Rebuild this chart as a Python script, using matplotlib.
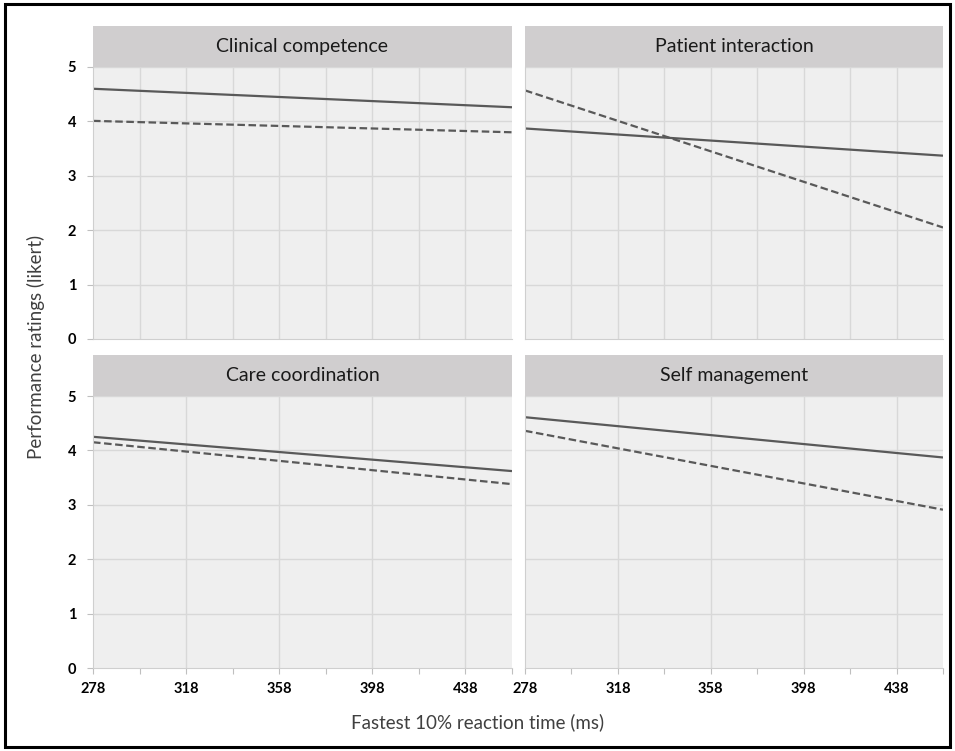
import matplotlib
matplotlib.use("Agg")
import matplotlib.pyplot as plt
from matplotlib.patches import Rectangle

plt.rcParams['font.family'] = ['Lato', 'DejaVu Sans']

# fitted lines, evaluated at both ends of the reaction-time range
rt_ends = [278, 458]
panels = ["Clinical competence", "Patient interaction",
          "Care coordination", "Self management"]
solid_vals = [[4.60, 4.26], [3.87, 3.37], [4.25, 3.62], [4.61, 3.87]]
dashed_vals = [[4.01, 3.80], [4.57, 2.05], [4.15, 3.38], [4.36, 2.91]]
x_ticks = [278, 318, 358, 398, 438]
y_ticks = [0, 1, 2, 3, 4, 5]

W, H = 955, 751
fig = plt.figure(figsize=(W / 100, H / 100), dpi=100)

line_col = '#595959'
grid_col = '#d8d8d8'
bg_col = '#efefef'
strip_col = '#d0cecf'


def box(x0, y0, x1, y1):
    # pixel box (top-left origin) -> figure fraction rect
    return [x0 / W, 1 - y1 / H, (x1 - x0) / W, (y1 - y0) / H]


lefts = [(93, 512), (525, 943)]
tops = [(26, 67, 339), (355, 396, 668)]

for i, name in enumerate(panels):
    row, col = divmod(i, 2)
    x0, x1 = lefts[col]
    s0, p0, p1 = tops[row]

    ax = fig.add_axes(box(x0, p0, x1, p1))
    ax.set_facecolor(bg_col)
    ax.plot(rt_ends, solid_vals[i], color=line_col, lw=1.6,
            solid_capstyle='butt')
    ax.plot(rt_ends, dashed_vals[i], color=line_col, lw=1.6,
            dashes=(3.4, 1.6))
    ax.set_xlim(278, 458)
    ax.set_ylim(0, 5)

    # top row has gridlines every 20, bottom row every 40
    if row == 0:
        for gx in range(298, 458, 20):
            ax.axvline(gx, color=grid_col, lw=1, zorder=0)
    else:
        for gx in range(318, 458, 40):
            ax.axvline(gx, color=grid_col, lw=1, zorder=0)
    for gy in y_ticks[1:]:
        ax.axhline(gy, color=grid_col, lw=1, zorder=0)

    ax.set_xticks(x_ticks + [458])
    ax.set_xticks(range(298, 458, 40), minor=True)
    ax.tick_params(axis='x', which='both', length=4, color='#bfbfbf',
                   direction='out', width=0.8, pad=6)
    if row == 1:
        ax.set_xticklabels([str(t) for t in x_ticks] + [''],
                           fontweight='bold', fontsize=10.5)
    else:
        ax.set_xticklabels([])
        ax.tick_params(axis='x', which='both', length=0)

    ax.set_yticks(y_ticks)
    if col == 0:
        ax.set_yticklabels([str(t) for t in y_ticks], fontweight='bold',
                           fontsize=10.5)
        ax.tick_params(axis='y', length=4, color='#bfbfbf', width=0.8,
                       pad=8)
    else:
        ax.set_yticklabels([])
        ax.tick_params(axis='y', length=0)

    for side in ['top', 'right']:
        ax.spines[side].set_visible(False)
    for side in ['left', 'bottom']:
        ax.spines[side].set_color('#cfcfcf')
        ax.spines[side].set_linewidth(0.8)

    # title strip
    sx = fig.add_axes(box(x0, s0, x1, p0))
    sx.set_facecolor(strip_col)
    sx.set_xticks([])
    sx.set_yticks([])
    for sp in sx.spines.values():
        sp.set_visible(False)
    sx.text(0.5, 0.5, name, ha='center', va='center', fontsize=14,
            color='#1a1a1a', transform=sx.transAxes)

fig.text(0.5, 1 - 722 / H, "Fastest 10% reaction time (ms)", ha='center',
         va='center', fontsize=13.5, color='#404040')
fig.text(36 / W, 1 - 347 / H, "Performance ratings (likert)", ha='center',
         va='center', rotation=90, fontsize=13.5, color='#404040')

fig.patches.append(Rectangle((5 / W, 4 / H), 945 / W, 743 / H,
                             transform=fig.transFigure, fill=False,
                             edgecolor='black', lw=2.2))

fig.savefig("out.png", dpi=100)
